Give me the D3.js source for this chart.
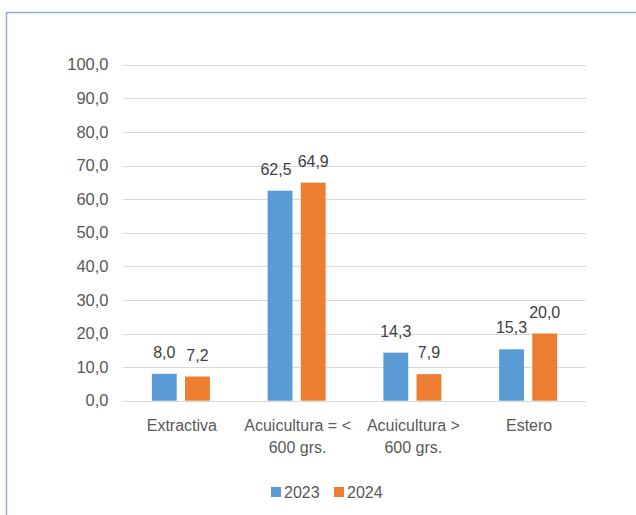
<!DOCTYPE html>
<html><head><meta charset="utf-8">
<script src="https://cdn.jsdelivr.net/npm/d3@7"></script>
<style>body{margin:0;background:#fff}svg{display:block}text{font-family:"Liberation Sans",Arial,sans-serif}</style>
</head><body><svg id="c" width="636" height="515"></svg>
<script>
const categories = [["Extractiva"], ["Acuicultura = <", "600 grs."], ["Acuicultura >", "600 grs."], ["Estero"]];
const seriesNames = ["2023", "2024"];
const values2023 = [8.0, 62.5, 14.3, 15.3];
const values2024 = [7.2, 64.9, 7.9, 20.0];
const yTicks = [0, 10, 20, 30, 40, 50, 60, 70, 80, 90, 100];
const colors = ["#5B9BD5", "#ED7D31"];

const svg = d3.select("#c");
svg.append("rect").attr("x", 6.5).attr("y", 12.5).attr("width", 700).attr("height", 600)
  .attr("fill", "#fff").attr("stroke", "#8EAADB").attr("stroke-width", 1.5);

const x0 = d3.scaleBand().domain(d3.range(categories.length)).range([123, 586]).paddingInner(0).paddingOuter(0);
const x1 = d3.scaleBand().domain([0, 1]).range([-29, 29]).paddingInner(0.25);
const y = d3.scaleLinear().domain([0, 100]).range([400.7, 64.7]);
const fmt = v => d3.format(".1f")(v).replace(".", ",");

const g = svg.append("g");
g.selectAll("line.grid").data(yTicks).join("line")
  .attr("x1", 123).attr("x2", 586).attr("y1", d => Math.round(y(d)) + 0.5).attr("y2", d => Math.round(y(d)) + 0.5)
  .attr("stroke", "#D9D9D9").attr("stroke-width", 1.2);
g.selectAll("text.yt").data(yTicks).join("text")
  .attr("x", 108.5).attr("y", d => y(d)).attr("dy", "0.35em").attr("text-anchor", "end")
  .attr("font-size", 16.5).attr("fill", "#595959").text(d => fmt(d));

const series = [values2023, values2024];
series.forEach((vals, s) => {
  const cx = i => x0(i) + x0.bandwidth() / 2 + x1(s);
  g.selectAll("rect.s" + s).data(vals).join("rect")
    .attr("x", (d, i) => cx(i)).attr("width", x1.bandwidth())
    .attr("y", d => y(d)).attr("height", d => y(0) - y(d))
    .attr("fill", colors[s]);
  g.selectAll("text.l" + s).data(vals).join("text")
    .attr("x", (d, i) => cx(i) + x1.bandwidth() / 2 - (s === 0 && i === 1 ? 4 : 0)).attr("y", d => y(d) - 16)
    .attr("text-anchor", "middle").attr("font-size", 16).attr("fill", "#404040").text(d => fmt(d));
});

categories.forEach((lines, i) => {
  const t = g.append("text").attr("x", x0(i) + x0.bandwidth() / 2 + 1).attr("y", 431)
    .attr("text-anchor", "middle").attr("font-size", 16).attr("fill", "#595959");
  lines.forEach((ln, k) => t.append("tspan").attr("x", x0(i) + x0.bandwidth() / 2 + 1).attr("dy", k ? 22 : 0).text(ln));
});

const leg = g.append("g");
const legX = [271, 334];
seriesNames.forEach((n, s) => {
  leg.append("rect").attr("x", legX[s]).attr("y", 487).attr("width", 10).attr("height", 10).attr("fill", colors[s]);
  leg.append("text").attr("x", legX[s] + 13).attr("y", 492).attr("dy", "0.35em").attr("font-size", 16).attr("fill", "#595959").text(n);
});
</script></body></html>
